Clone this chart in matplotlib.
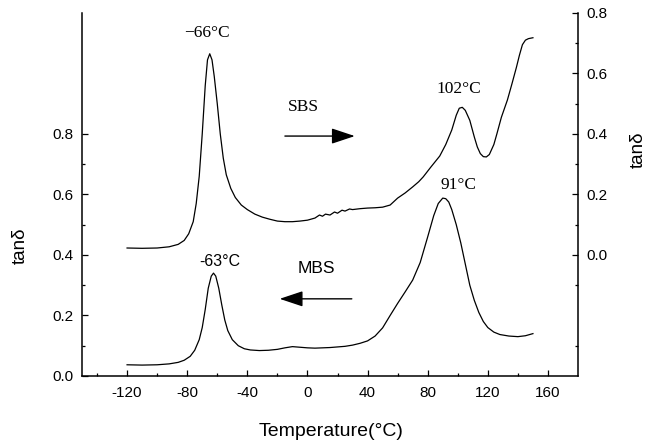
import matplotlib.pyplot as plt
from matplotlib.ticker import FixedLocator

# SBS (upper curve), read on the left axis
sbs_t = [-120, -110, -100, -92, -86, -82, -79, -76, -74, -72, -70, -68, -66.5, -65, -63.5, -62,
         -60, -58, -56, -54, -51, -48, -44, -40, -35, -30, -25, -20, -15, -10, -5, 0,
         5, 8, 10, 12, 15, 18, 20, 23, 25, 28, 30, 35, 40, 45, 50, 55,
         60, 65, 70, 74, 77, 82, 88, 92, 96, 99, 101, 103, 105, 108, 111, 113,
         115, 117, 119, 121, 124, 126, 129, 133, 136, 139, 141, 143, 145, 147, 150]
sbs_v = [0.423, 0.422, 0.423, 0.427, 0.435, 0.448, 0.47, 0.51, 0.57, 0.66, 0.80, 0.96, 1.045, 1.065, 1.045, 0.99,
         0.90, 0.80, 0.72, 0.665, 0.62, 0.59, 0.565, 0.55, 0.535, 0.525, 0.518, 0.512, 0.51, 0.51, 0.512, 0.515,
         0.522, 0.532, 0.528, 0.535, 0.532, 0.542, 0.538, 0.548, 0.545, 0.552, 0.55, 0.553, 0.555, 0.556, 0.558, 0.565,
         0.588, 0.605, 0.625, 0.642, 0.658, 0.69, 0.727, 0.765, 0.813, 0.862, 0.885, 0.888, 0.878, 0.845, 0.79, 0.757,
         0.735, 0.725, 0.724, 0.732, 0.765, 0.80, 0.855, 0.912, 0.965, 1.02, 1.06, 1.095, 1.11, 1.115, 1.118]

# MBS (lower curve), read on the left axis
mbs_t = [-120, -110, -100, -92, -86, -82, -78, -75, -72, -70, -68, -66, -64, -62.5, -61, -59,
         -57, -55, -53, -50, -46, -42, -38, -32, -26, -20, -15, -10, -5, 0, 5, 10,
         15, 20, 25, 30, 35, 40, 45, 50, 55, 60, 65, 70, 75, 80, 84, 87,
         90, 92, 94, 96, 99, 102, 105, 108, 111, 114, 117, 120, 124, 128, 134, 140, 145, 150]
mbs_v = [0.037, 0.036, 0.037, 0.04, 0.045, 0.052, 0.065, 0.085, 0.12, 0.16, 0.22, 0.29, 0.33, 0.34, 0.33, 0.29,
         0.235, 0.185, 0.15, 0.12, 0.1, 0.09, 0.086, 0.084, 0.085, 0.088, 0.093, 0.097, 0.095, 0.093, 0.092, 0.093,
         0.094, 0.096, 0.098, 0.102, 0.108, 0.116, 0.132, 0.159, 0.2, 0.24, 0.278, 0.317, 0.375, 0.46, 0.53, 0.57,
         0.588, 0.586, 0.575, 0.55, 0.5, 0.44, 0.37, 0.3, 0.25, 0.21, 0.18, 0.16, 0.145, 0.137, 0.132, 0.13, 0.133, 0.14]

x_ticks = [-120, -80, -40, 0, 40, 80, 120, 160]
left_ticks = [0.0, 0.2, 0.4, 0.6, 0.8]
right_ticks = [0.0, 0.2, 0.4, 0.6, 0.8]

sans = 'Liberation Sans'
serif = 'Liberation Serif'

fig = plt.figure(figsize=(6.47, 4.46), dpi=100)
ax = fig.add_axes([0.1267, 0.157, 0.7667, 0.814])

ax.plot(sbs_t, sbs_v, color='black', lw=0.9)
ax.plot(mbs_t, mbs_v, color='black', lw=0.9)

ax.set_xlim(-150, 180)
ax.set_ylim(0, 1.2)
ax.xaxis.set_major_locator(FixedLocator(x_ticks))
ax.xaxis.set_minor_locator(FixedLocator([-140, -100, -60, -20, 20, 60, 100, 140]))
ax.yaxis.set_major_locator(FixedLocator(left_ticks))
ax.yaxis.set_minor_locator(FixedLocator([0.1, 0.3, 0.5, 0.7]))
ax.set_xticklabels([str(t) for t in x_ticks], family=sans, fontsize=11)
ax.set_yticklabels(['%.1f' % t for t in left_ticks], family=sans, fontsize=11)
ax.tick_params(which='both', direction='in', width=0.9)
ax.tick_params(which='major', length=4)
ax.tick_params(which='minor', length=2.5)
ax.tick_params(axis='x', pad=7)
ax.tick_params(axis='y', pad=6)
ax.spines['top'].set_visible(False)
ax.spines['right'].set_visible(False)
for s in ('left', 'bottom'):
    ax.spines[s].set_linewidth(1.1)

ax2 = ax.twinx()
ax2.set_ylim(-0.4, 0.8)
ax2.yaxis.set_major_locator(FixedLocator(right_ticks))
ax2.yaxis.set_minor_locator(FixedLocator([-0.3, -0.1, 0.1, 0.3, 0.5, 0.7]))
ax2.set_yticklabels(['%.1f' % t for t in right_ticks], family=sans, fontsize=11)
ax2.tick_params(which='both', direction='in', width=0.9, pad=6)
ax2.tick_params(which='major', length=4)
ax2.tick_params(which='minor', length=2.5)
for s in ('top', 'left', 'bottom'):
    ax2.spines[s].set_visible(False)
ax2.spines['right'].set_linewidth(1.1)

# annotations
arrow = dict(arrowstyle='-|>,head_length=0.9,head_width=0.3', color='black', lw=1.0,
             mutation_scale=16, shrinkA=0, shrinkB=0)
ax.text(-67, 1.134, '\u221266\u00b0C', family=serif, fontsize=12.5, ha='center', va='center')
ax.text(-3, 0.889, 'SBS', family=serif, fontsize=12.5, ha='center', va='center')
ax.annotate('', xy=(31.5, 0.793), xytext=(-15, 0.793), arrowprops=arrow)
ax.text(101, 0.949, '102\u00b0C', family=serif, fontsize=12.5, ha='center', va='center')
ax.text(100.5, 0.631, '91\u00b0C', family=serif, fontsize=12.5, ha='center', va='center')
ax.text(-58.5, 0.377, '-63\u00b0C', family=sans, fontsize=11.5, ha='center', va='center')
ax.text(6, 0.354, 'MBS', family=sans, fontsize=12.5, ha='center', va='center')
ax.annotate('', xy=(-18.5, 0.255), xytext=(29.5, 0.255), arrowprops=arrow)

fig.text(20 / 647, 1 - 246 / 446, 'tan\u03b4', family=sans, fontsize=13.5, rotation=90,
         ha='center', va='center')
fig.text(638 / 647, 1 - 150 / 446, 'tan\u03b4', family=sans, fontsize=13.5, rotation=90,
         ha='center', va='center')
fig.text(331 / 647, 1 - 432 / 446, 'Temperature(\u00b0C)', family=sans, fontsize=14,
         ha='center', va='center')

fig.savefig('out.png', dpi=100)
